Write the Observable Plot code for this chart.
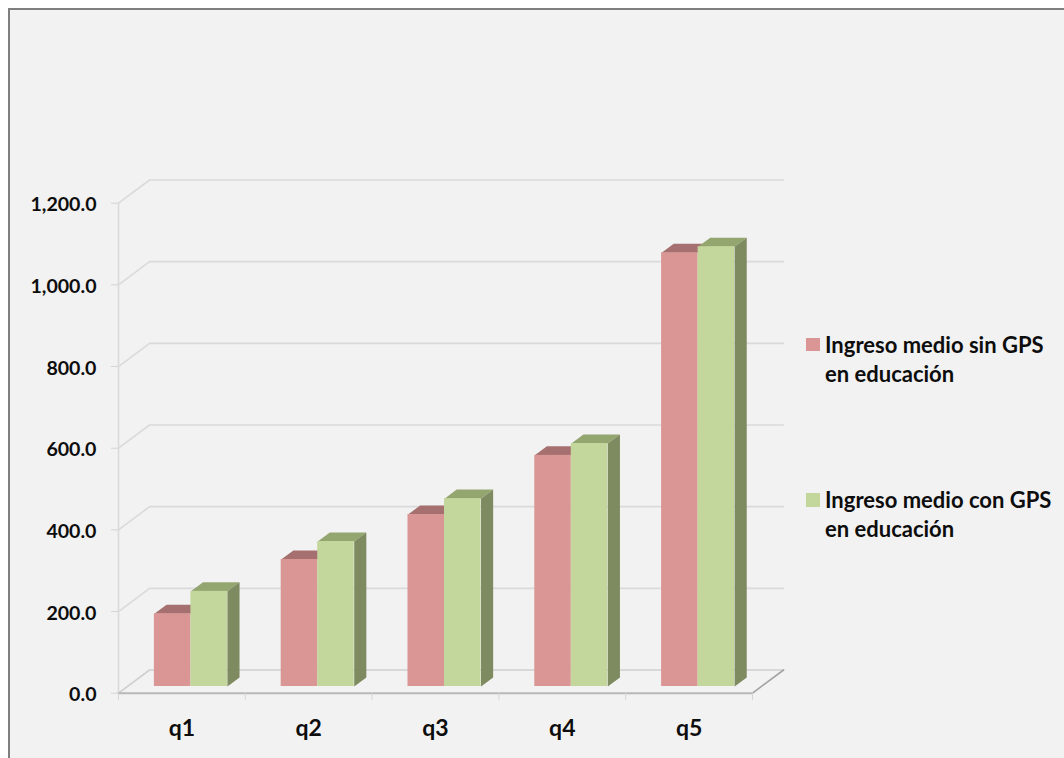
<!DOCTYPE html>
<html lang="es">
<head>
<meta charset="utf-8">
<script src="https://cdn.jsdelivr.net/npm/d3@7"></script>
<script src="https://cdn.jsdelivr.net/npm/@observablehq/plot@0.6"></script>
<style>
  html, body { margin: 0; padding: 0; background: #fff; }
  #frame {
    position: absolute; left: 8px; top: 8px; width: 1056px; height: 750px;
    box-sizing: border-box; background: #f2f2f2;
    border-left: 2px solid #7f7f7f; border-top: 2px solid #7f7f7f;
  }
  #chart { position: absolute; left: 0; top: 0; }
  .legend {
    position: absolute; left: 806px; width: 258px;
    font: 700 22px/29.3px Lato, "Open Sans", sans-serif; color: #0d0d0d;
  }
  .legend i { position: absolute; left: 0; top: 8px; width: 14px; height: 13.5px; }
  .legend span { display: block; margin-left: 19px; white-space: nowrap; }
</style>
</head>
<body>
<div id="frame"></div>
<div id="chart"></div>
<div class="legend" style="top:329.5px"><i style="background:#d99694"></i><span id="l0"></span></div>
<div class="legend" style="top:485px"><i style="background:#c3d69b"></i><span id="l1"></span></div>
<script>
const categories = ["q1", "q2", "q3", "q4", "q5"];
const sinGPS = [178, 311, 421, 566, 1062];
const conGPS = [233, 355, 460, 595, 1077];
const yTicks = [0, 200, 400, 600, 800, 1000, 1200];
const seriesNames = [
  ["Ingreso medio sin GPS", "en educación"],
  ["Ingreso medio con GPS", "en educación"]
];

// Oblique projection: depth 0 is the front of the floor, depth 1 the back wall.
const depthX = 0.245;   // category units per full depth
const depthY = 56.8;    // value units per full depth
const barFront = 0.29, barBack = 0.68;
const barWidth = 0.288;

const pt = (x, v, d) => ({x: x + d * depthX, y: v + d * depthY});
const poly = (id, pts) => pts.map((p) => ({id, ...p}));

// Walls and floor
const grid = yTicks.slice(1).flatMap((v) =>
  poly(v, [pt(0, v, 0), pt(0, v, 1), pt(5, v, 1)])
);
const floorBack = poly("back", [pt(0, 0, 0), pt(0, 0, 1), pt(5, 0, 1)]);
const floorRight = poly("right", [pt(5, 0, 1), pt(5, 0, 0)]);
const floorFront = poly("front", [pt(0, 0, 0), pt(5, 0, 0)]);
const wall = poly("wall", [pt(0, 0, 0), pt(0, 1200, 0)]);

// Bar faces for one series; side = 0 sits left of the category centre, 1 right of it
function faces(values, side) {
  const left = (i) => i + 0.5 + (side - 1) * barWidth;
  const right = (i) => left(i) + barWidth;
  return {
    front: values.map((v, i) => {
      const a = pt(left(i), 0, barFront), b = pt(right(i), v, barFront);
      return {x1: a.x, x2: b.x, y1: a.y, y2: b.y};
    }),
    top: values.flatMap((v, i) => poly(i, [
      pt(left(i), v, barFront), pt(right(i), v, barFront),
      pt(right(i), v, barBack), pt(left(i), v, barBack)
    ])),
    side: values.flatMap((v, i) => poly(i, [
      pt(right(i), 0, barFront), pt(right(i), v, barFront),
      pt(right(i), v, barBack), pt(right(i), 0, barBack)
    ]))
  };
}
const red = faces(sinGPS, 0);
const green = faces(conGPS, 1);

const solid = (data, fill) => Plot.line(data, {x: "x", y: "y", z: "id", fill, stroke: "none"});
const edge = (data, stroke, strokeWidth = 1.6) =>
  Plot.line(data, {x: "x", y: "y", z: "id", stroke, strokeWidth});
const labelFont = {fontSize: 19.6, fontWeight: 700, fontFamily: "Lato, 'Open Sans', sans-serif"};

const chart = Plot.plot({
  width: 1064,
  height: 758,
  marginLeft: 118,
  marginRight: 312,
  marginTop: 202.7,
  marginBottom: 65.3,
  style: {background: "transparent", overflow: "visible"},
  x: {domain: [0, 5]},
  y: {domain: [0, 1200]},
  marks: [
    edge(grid, "#dadada"),
    edge(wall, "#dadada"),
    edge(floorBack, "#cfcfcf"),
    edge(floorRight, "#a3a3a3"),
    edge(floorFront, "#b8b8b8", 2),

    // Tick strokes and tick labels are separate so the labels can sit slightly lower
    Plot.axisY({
      ticks: yTicks, tickSize: 7, stroke: "#d4d4d4", tickFormat: () => "", label: null
    }),
    Plot.axisY({
      ticks: yTicks, tickSize: 0, tickPadding: 22, dy: 2, color: "#0d0d0d",
      tickFormat: (v) => d3.format(",.1f")(v), label: null, ...labelFont
    }),
    Plot.axisX({
      ticks: d3.range(6), tickSize: 7, stroke: "#d4d4d4", tickFormat: () => "", label: null
    }),
    Plot.axisX({
      ticks: categories.map((_, i) => i + 0.5), tickSize: 0, tickPadding: 26, color: "#0d0d0d",
      tickFormat: (v) => categories[Math.floor(v)], label: null, ...labelFont, fontSize: 23
    }),

    solid(red.top, "#a5706f"),
    Plot.rect(red.front, {x1: "x1", x2: "x2", y1: "y1", y2: "y2", fill: "#d99694"}),
    solid(green.top, "#94a670"),
    Plot.rect(green.front, {x1: "x1", x2: "x2", y1: "y1", y2: "y2", fill: "#c3d69b"}),
    solid(green.side, "#7e8a60")
  ]
});
document.getElementById("chart").append(chart);

seriesNames.forEach((lines, i) => {
  document.getElementById("l" + i).innerHTML = lines.join("<br>");
});
</script>
</body>
</html>
